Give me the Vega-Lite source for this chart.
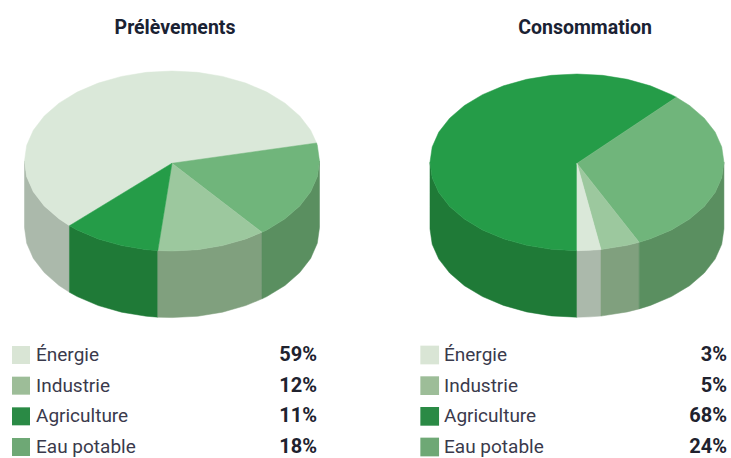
{
"$schema":"https://vega.github.io/schema/vega-lite/v6.json",
"padding":0,
"spacing":79,
"config":{"view":{"stroke":null},"concat":{"spacing":0},"text":{"font":"Roboto"}},
"datasets":{
"legende":[
{"pie":"Prélèvements","slice":"Énergie","share":0.59},
{"pie":"Prélèvements","slice":"Industrie","share":0.12},
{"pie":"Prélèvements","slice":"Agriculture","share":0.11},
{"pie":"Prélèvements","slice":"Eau potable","share":0.18},
{"pie":"Consommation","slice":"Énergie","share":0.03},
{"pie":"Consommation","slice":"Industrie","share":0.05},
{"pie":"Consommation","slice":"Agriculture","share":0.68},
{"pie":"Consommation","slice":"Eau potable","share":0.24}
],
"prelevements":[
{"surface":"Énergie (flanc)","o":1,"x":-1,"y":0},{"surface":"Énergie (flanc)","o":2,"x":-0.985,"y":-0.174},{"surface":"Énergie (flanc)","o":3,"x":-0.94,"y":-0.342},{"surface":"Énergie (flanc)","o":4,"x":-0.866,"y":-0.5},{"surface":"Énergie (flanc)","o":5,"x":-0.766,"y":-0.643},{"surface":"Énergie (flanc)","o":6,"x":-0.695,"y":-0.719},{"surface":"Énergie (flanc)","o":7,"x":-0.695,"y":-1.459},{"surface":"Énergie (flanc)","o":8,"x":-0.766,"y":-1.383},{"surface":"Énergie (flanc)","o":9,"x":-0.866,"y":-1.24},{"surface":"Énergie (flanc)","o":10,"x":-0.94,"y":-1.082},{"surface":"Énergie (flanc)","o":11,"x":-0.985,"y":-0.914},{"surface":"Énergie (flanc)","o":12,"x":-1,"y":-0.74},
{"surface":"Agriculture (flanc)","o":1,"x":-0.695,"y":-0.719},{"surface":"Agriculture (flanc)","o":2,"x":-0.643,"y":-0.766},{"surface":"Agriculture (flanc)","o":3,"x":-0.5,"y":-0.866},{"surface":"Agriculture (flanc)","o":4,"x":-0.342,"y":-0.94},{"surface":"Agriculture (flanc)","o":5,"x":-0.174,"y":-0.985},{"surface":"Agriculture (flanc)","o":6,"x":-0.096,"y":-0.995},{"surface":"Agriculture (flanc)","o":7,"x":-0.096,"y":-1.735},{"surface":"Agriculture (flanc)","o":8,"x":-0.174,"y":-1.725},{"surface":"Agriculture (flanc)","o":9,"x":-0.342,"y":-1.68},{"surface":"Agriculture (flanc)","o":10,"x":-0.5,"y":-1.606},{"surface":"Agriculture (flanc)","o":11,"x":-0.643,"y":-1.506},{"surface":"Agriculture (flanc)","o":12,"x":-0.695,"y":-1.459},
{"surface":"Industrie (flanc)","o":1,"x":-0.096,"y":-0.995},{"surface":"Industrie (flanc)","o":2,"x":0,"y":-1},{"surface":"Industrie (flanc)","o":3,"x":0.174,"y":-0.985},{"surface":"Industrie (flanc)","o":4,"x":0.342,"y":-0.94},{"surface":"Industrie (flanc)","o":5,"x":0.5,"y":-0.866},{"surface":"Industrie (flanc)","o":6,"x":0.61,"y":-0.792},{"surface":"Industrie (flanc)","o":7,"x":0.61,"y":-1.532},{"surface":"Industrie (flanc)","o":8,"x":0.5,"y":-1.606},{"surface":"Industrie (flanc)","o":9,"x":0.342,"y":-1.68},{"surface":"Industrie (flanc)","o":10,"x":0.174,"y":-1.725},{"surface":"Industrie (flanc)","o":11,"x":0,"y":-1.74},{"surface":"Industrie (flanc)","o":12,"x":-0.096,"y":-1.735},
{"surface":"Eau potable (flanc)","o":1,"x":0.61,"y":-0.792},{"surface":"Eau potable (flanc)","o":2,"x":0.643,"y":-0.766},{"surface":"Eau potable (flanc)","o":3,"x":0.766,"y":-0.643},{"surface":"Eau potable (flanc)","o":4,"x":0.866,"y":-0.5},{"surface":"Eau potable (flanc)","o":5,"x":0.94,"y":-0.342},{"surface":"Eau potable (flanc)","o":6,"x":0.985,"y":-0.174},{"surface":"Eau potable (flanc)","o":7,"x":1,"y":0},{"surface":"Eau potable (flanc)","o":8,"x":1,"y":-0.74},{"surface":"Eau potable (flanc)","o":9,"x":0.985,"y":-0.914},{"surface":"Eau potable (flanc)","o":10,"x":0.94,"y":-1.082},{"surface":"Eau potable (flanc)","o":11,"x":0.866,"y":-1.24},{"surface":"Eau potable (flanc)","o":12,"x":0.766,"y":-1.383},{"surface":"Eau potable (flanc)","o":13,"x":0.643,"y":-1.506},{"surface":"Eau potable (flanc)","o":14,"x":0.61,"y":-1.532},
{"surface":"Énergie","o":1,"x":0,"y":-0.025},{"surface":"Énergie","o":2,"x":0.98,"y":0.2},{"surface":"Énergie","o":3,"x":0.94,"y":0.342},{"surface":"Énergie","o":4,"x":0.866,"y":0.5},{"surface":"Énergie","o":5,"x":0.766,"y":0.643},{"surface":"Énergie","o":6,"x":0.643,"y":0.766},{"surface":"Énergie","o":7,"x":0.5,"y":0.866},{"surface":"Énergie","o":8,"x":0.342,"y":0.94},{"surface":"Énergie","o":9,"x":0.174,"y":0.985},{"surface":"Énergie","o":10,"x":0,"y":1},{"surface":"Énergie","o":11,"x":-0.174,"y":0.985},{"surface":"Énergie","o":12,"x":-0.342,"y":0.94},{"surface":"Énergie","o":13,"x":-0.5,"y":0.866},{"surface":"Énergie","o":14,"x":-0.643,"y":0.766},{"surface":"Énergie","o":15,"x":-0.766,"y":0.643},{"surface":"Énergie","o":16,"x":-0.866,"y":0.5},{"surface":"Énergie","o":17,"x":-0.94,"y":0.342},{"surface":"Énergie","o":18,"x":-0.985,"y":0.174},{"surface":"Énergie","o":19,"x":-1,"y":0},{"surface":"Énergie","o":20,"x":-0.985,"y":-0.174},{"surface":"Énergie","o":21,"x":-0.94,"y":-0.342},{"surface":"Énergie","o":22,"x":-0.866,"y":-0.5},{"surface":"Énergie","o":23,"x":-0.766,"y":-0.643},{"surface":"Énergie","o":24,"x":-0.695,"y":-0.719},
{"surface":"Eau potable","o":1,"x":0,"y":-0.025},{"surface":"Eau potable","o":2,"x":0.61,"y":-0.792},{"surface":"Eau potable","o":3,"x":0.643,"y":-0.766},{"surface":"Eau potable","o":4,"x":0.766,"y":-0.643},{"surface":"Eau potable","o":5,"x":0.866,"y":-0.5},{"surface":"Eau potable","o":6,"x":0.94,"y":-0.342},{"surface":"Eau potable","o":7,"x":0.985,"y":-0.174},{"surface":"Eau potable","o":8,"x":1,"y":0},{"surface":"Eau potable","o":9,"x":0.985,"y":0.174},{"surface":"Eau potable","o":10,"x":0.98,"y":0.2},
{"surface":"Industrie","o":1,"x":0,"y":-0.025},{"surface":"Industrie","o":2,"x":-0.096,"y":-0.995},{"surface":"Industrie","o":3,"x":0,"y":-1},{"surface":"Industrie","o":4,"x":0.174,"y":-0.985},{"surface":"Industrie","o":5,"x":0.342,"y":-0.94},{"surface":"Industrie","o":6,"x":0.5,"y":-0.866},{"surface":"Industrie","o":7,"x":0.61,"y":-0.792},
{"surface":"Agriculture","o":1,"x":0,"y":-0.025},{"surface":"Agriculture","o":2,"x":-0.695,"y":-0.719},{"surface":"Agriculture","o":3,"x":-0.643,"y":-0.766},{"surface":"Agriculture","o":4,"x":-0.5,"y":-0.866},{"surface":"Agriculture","o":5,"x":-0.342,"y":-0.94},{"surface":"Agriculture","o":6,"x":-0.174,"y":-0.985},{"surface":"Agriculture","o":7,"x":-0.096,"y":-0.995}
],
"consommation":[
{"surface":"Agriculture (flanc)","o":1,"x":-1,"y":0},{"surface":"Agriculture (flanc)","o":2,"x":-0.985,"y":-0.174},{"surface":"Agriculture (flanc)","o":3,"x":-0.94,"y":-0.342},{"surface":"Agriculture (flanc)","o":4,"x":-0.866,"y":-0.5},{"surface":"Agriculture (flanc)","o":5,"x":-0.766,"y":-0.643},{"surface":"Agriculture (flanc)","o":6,"x":-0.643,"y":-0.766},{"surface":"Agriculture (flanc)","o":7,"x":-0.5,"y":-0.866},{"surface":"Agriculture (flanc)","o":8,"x":-0.342,"y":-0.94},{"surface":"Agriculture (flanc)","o":9,"x":-0.174,"y":-0.985},{"surface":"Agriculture (flanc)","o":10,"x":0,"y":-1},{"surface":"Agriculture (flanc)","o":11,"x":0,"y":-1.754},{"surface":"Agriculture (flanc)","o":12,"x":-0.174,"y":-1.739},{"surface":"Agriculture (flanc)","o":13,"x":-0.342,"y":-1.694},{"surface":"Agriculture (flanc)","o":14,"x":-0.5,"y":-1.62},{"surface":"Agriculture (flanc)","o":15,"x":-0.643,"y":-1.52},{"surface":"Agriculture (flanc)","o":16,"x":-0.766,"y":-1.397},{"surface":"Agriculture (flanc)","o":17,"x":-0.866,"y":-1.254},{"surface":"Agriculture (flanc)","o":18,"x":-0.94,"y":-1.096},{"surface":"Agriculture (flanc)","o":19,"x":-0.985,"y":-0.928},{"surface":"Agriculture (flanc)","o":20,"x":-1,"y":-0.754},
{"surface":"Énergie (flanc)","o":1,"x":0,"y":-1},{"surface":"Énergie (flanc)","o":2,"x":0.087,"y":-0.996},{"surface":"Énergie (flanc)","o":3,"x":0.163,"y":-0.987},{"surface":"Énergie (flanc)","o":4,"x":0.163,"y":-1.741},{"surface":"Énergie (flanc)","o":5,"x":0.087,"y":-1.75},{"surface":"Énergie (flanc)","o":6,"x":0,"y":-1.754},
{"surface":"Industrie (flanc)","o":1,"x":0.163,"y":-0.987},{"surface":"Industrie (flanc)","o":2,"x":0.342,"y":-0.94},{"surface":"Industrie (flanc)","o":3,"x":0.423,"y":-0.906},{"surface":"Industrie (flanc)","o":4,"x":0.423,"y":-1.66},{"surface":"Industrie (flanc)","o":5,"x":0.342,"y":-1.694},{"surface":"Industrie (flanc)","o":6,"x":0.163,"y":-1.741},
{"surface":"Eau potable (flanc)","o":1,"x":0.423,"y":-0.906},{"surface":"Eau potable (flanc)","o":2,"x":0.5,"y":-0.866},{"surface":"Eau potable (flanc)","o":3,"x":0.643,"y":-0.766},{"surface":"Eau potable (flanc)","o":4,"x":0.766,"y":-0.643},{"surface":"Eau potable (flanc)","o":5,"x":0.866,"y":-0.5},{"surface":"Eau potable (flanc)","o":6,"x":0.94,"y":-0.342},{"surface":"Eau potable (flanc)","o":7,"x":0.985,"y":-0.174},{"surface":"Eau potable (flanc)","o":8,"x":1,"y":0},{"surface":"Eau potable (flanc)","o":9,"x":1,"y":-0.754},{"surface":"Eau potable (flanc)","o":10,"x":0.985,"y":-0.928},{"surface":"Eau potable (flanc)","o":11,"x":0.94,"y":-1.096},{"surface":"Eau potable (flanc)","o":12,"x":0.866,"y":-1.254},{"surface":"Eau potable (flanc)","o":13,"x":0.766,"y":-1.397},{"surface":"Eau potable (flanc)","o":14,"x":0.643,"y":-1.52},{"surface":"Eau potable (flanc)","o":15,"x":0.5,"y":-1.62},{"surface":"Eau potable (flanc)","o":16,"x":0.423,"y":-1.66},
{"surface":"Agriculture","o":1,"x":0,"y":-0.012},{"surface":"Agriculture","o":2,"x":0.676,"y":0.737},{"surface":"Agriculture","o":3,"x":0.643,"y":0.766},{"surface":"Agriculture","o":4,"x":0.5,"y":0.866},{"surface":"Agriculture","o":5,"x":0.342,"y":0.94},{"surface":"Agriculture","o":6,"x":0.174,"y":0.985},{"surface":"Agriculture","o":7,"x":0,"y":1},{"surface":"Agriculture","o":8,"x":-0.174,"y":0.985},{"surface":"Agriculture","o":9,"x":-0.342,"y":0.94},{"surface":"Agriculture","o":10,"x":-0.5,"y":0.866},{"surface":"Agriculture","o":11,"x":-0.643,"y":0.766},{"surface":"Agriculture","o":12,"x":-0.766,"y":0.643},{"surface":"Agriculture","o":13,"x":-0.866,"y":0.5},{"surface":"Agriculture","o":14,"x":-0.94,"y":0.342},{"surface":"Agriculture","o":15,"x":-0.985,"y":0.174},{"surface":"Agriculture","o":16,"x":-1,"y":0},{"surface":"Agriculture","o":17,"x":-0.985,"y":-0.174},{"surface":"Agriculture","o":18,"x":-0.94,"y":-0.342},{"surface":"Agriculture","o":19,"x":-0.866,"y":-0.5},{"surface":"Agriculture","o":20,"x":-0.766,"y":-0.643},{"surface":"Agriculture","o":21,"x":-0.643,"y":-0.766},{"surface":"Agriculture","o":22,"x":-0.5,"y":-0.866},{"surface":"Agriculture","o":23,"x":-0.342,"y":-0.94},{"surface":"Agriculture","o":24,"x":-0.174,"y":-0.985},{"surface":"Agriculture","o":25,"x":0,"y":-1},
{"surface":"Eau potable","o":1,"x":0,"y":-0.012},{"surface":"Eau potable","o":2,"x":0.423,"y":-0.906},{"surface":"Eau potable","o":3,"x":0.5,"y":-0.866},{"surface":"Eau potable","o":4,"x":0.643,"y":-0.766},{"surface":"Eau potable","o":5,"x":0.766,"y":-0.643},{"surface":"Eau potable","o":6,"x":0.866,"y":-0.5},{"surface":"Eau potable","o":7,"x":0.94,"y":-0.342},{"surface":"Eau potable","o":8,"x":0.985,"y":-0.174},{"surface":"Eau potable","o":9,"x":1,"y":0},{"surface":"Eau potable","o":10,"x":0.985,"y":0.174},{"surface":"Eau potable","o":11,"x":0.94,"y":0.342},{"surface":"Eau potable","o":12,"x":0.866,"y":0.5},{"surface":"Eau potable","o":13,"x":0.766,"y":0.643},{"surface":"Eau potable","o":14,"x":0.676,"y":0.737},
{"surface":"Industrie","o":1,"x":0,"y":-0.012},{"surface":"Industrie","o":2,"x":0.163,"y":-0.987},{"surface":"Industrie","o":3,"x":0.342,"y":-0.94},{"surface":"Industrie","o":4,"x":0.423,"y":-0.906},
{"surface":"Énergie","o":1,"x":0,"y":-0.012},{"surface":"Énergie","o":2,"x":0,"y":-1},{"surface":"Énergie","o":3,"x":0.087,"y":-0.996},{"surface":"Énergie","o":4,"x":0.163,"y":-0.987}
]
},
"hconcat":[
{"vconcat":[
{"width":326,"height":340,"layer":[
{"data":{"name":"prelevements"},"mark":{"type":"line","interpolate":"linear-closed","strokeWidth":0.5},
"encoding":{
"x":{"field":"x","type":"quantitative","axis":null,"scale":{"domain":[-1.166,1.044],"nice":false,"zero":false}},
"y":{"field":"y","type":"quantitative","axis":null,"scale":{"domain":[-1.989,1.789],"nice":false,"zero":false}},
"order":{"field":"o","type":"quantitative"},
"fill":{"field":"surface","type":"nominal","legend":null,"scale":{"domain":["Énergie","Industrie","Agriculture","Eau potable","Énergie (flanc)","Industrie (flanc)","Agriculture (flanc)","Eau potable (flanc)"],"range":["#dae8d9","#9cc89e","#259c48","#70b57b","#abb9ab","#80a07e","#1f7a37","#5a8f60"]}},
"stroke":{"field":"surface","type":"nominal","legend":null,"scale":{"domain":["Énergie","Industrie","Agriculture","Eau potable","Énergie (flanc)","Industrie (flanc)","Agriculture (flanc)","Eau potable (flanc)"],"range":["#dae8d9","#9cc89e","#259c48","#70b57b","#abb9ab","#80a07e","#1f7a37","#5a8f60"]}}
}},
{"data":{"values":[{"titre":"Prélèvements"}]},"mark":{"type":"text","font":"Roboto","fontWeight":"bold","fontSize":19.5,"color":"#1a2233","align":"center","baseline":"middle"},
"encoding":{"text":{"field":"titre"},"x":{"value":175},"y":{"value":28}}}
]},
{"width":326,"height":118,"data":{"name":"legende"},"transform":[{"filter":"datum.pie === 'Prélèvements'"}],
"encoding":{"y":{"field":"slice","type":"nominal","axis":null,"sort":["Énergie","Industrie","Agriculture","Eau potable"],"scale":{"type":"point","padding":0,"range":[15,107]}}},
"layer":[
{"mark":{"type":"point","shape":"square","filled":true,"size":324,"opacity":1},"encoding":{"x":{"value":21},"color":{"field":"slice","type":"nominal","legend":null,"scale":{"domain":["Énergie","Industrie","Agriculture","Eau potable"],"range":["#d9e5d5","#9dbd98","#2a8a45","#6ea875"]}}}},
{"mark":{"type":"text","fontSize":19,"align":"left","baseline":"middle","color":"#3a3a4c"},"encoding":{"x":{"value":36},"text":{"field":"slice"}}},
{"mark":{"type":"text","fontSize":20,"fontWeight":"bold","align":"right","baseline":"middle","color":"#20222e"},"encoding":{"x":{"value":317},"text":{"field":"share","type":"quantitative","format":".0%"}}}
]}
]},
{"vconcat":[
{"width":326,"height":340,"layer":[
{"data":{"name":"consommation"},"mark":{"type":"line","interpolate":"linear-closed","strokeWidth":0.5},
"encoding":{
"x":{"field":"x","type":"quantitative","axis":null,"scale":{"domain":[-1.17,1.048],"nice":false,"zero":false}},
"y":{"field":"y","type":"quantitative","axis":null,"scale":{"domain":[-2.012,1.838],"nice":false,"zero":false}},
"order":{"field":"o","type":"quantitative"},
"fill":{"field":"surface","type":"nominal","legend":null,"scale":{"domain":["Énergie","Industrie","Agriculture","Eau potable","Énergie (flanc)","Industrie (flanc)","Agriculture (flanc)","Eau potable (flanc)"],"range":["#dae8d9","#9cc89e","#259c48","#70b57b","#abb9ab","#80a07e","#1f7a37","#5a8f60"]}},
"stroke":{"field":"surface","type":"nominal","legend":null,"scale":{"domain":["Énergie","Industrie","Agriculture","Eau potable","Énergie (flanc)","Industrie (flanc)","Agriculture (flanc)","Eau potable (flanc)"],"range":["#dae8d9","#9cc89e","#259c48","#70b57b","#abb9ab","#80a07e","#1f7a37","#5a8f60"]}}
}},
{"data":{"values":[{"titre":"Consommation"}]},"mark":{"type":"text","font":"Roboto","fontWeight":"bold","fontSize":19.5,"color":"#1a2233","align":"center","baseline":"middle"},
"encoding":{"text":{"field":"titre"},"x":{"value":180},"y":{"value":28}}}
]},
{"width":326,"height":118,"data":{"name":"legende"},"transform":[{"filter":"datum.pie === 'Consommation'"}],
"encoding":{"y":{"field":"slice","type":"nominal","axis":null,"sort":["Énergie","Industrie","Agriculture","Eau potable"],"scale":{"type":"point","padding":0,"range":[15,107]}}},
"layer":[
{"mark":{"type":"point","shape":"square","filled":true,"size":350,"opacity":1},"encoding":{"x":{"value":24.7},"color":{"field":"slice","type":"nominal","legend":null,"scale":{"domain":["Énergie","Industrie","Agriculture","Eau potable"],"range":["#d9e5d5","#9dbd98","#2a8a45","#6ea875"]}}}},
{"mark":{"type":"text","fontSize":19,"align":"left","baseline":"middle","color":"#3a3a4c"},"encoding":{"x":{"value":39},"text":{"field":"slice"}}},
{"mark":{"type":"text","fontSize":20,"fontWeight":"bold","align":"right","baseline":"middle","color":"#20222e"},"encoding":{"x":{"value":322},"text":{"field":"share","type":"quantitative","format":".0%"}}}
]}
]}
]
}
